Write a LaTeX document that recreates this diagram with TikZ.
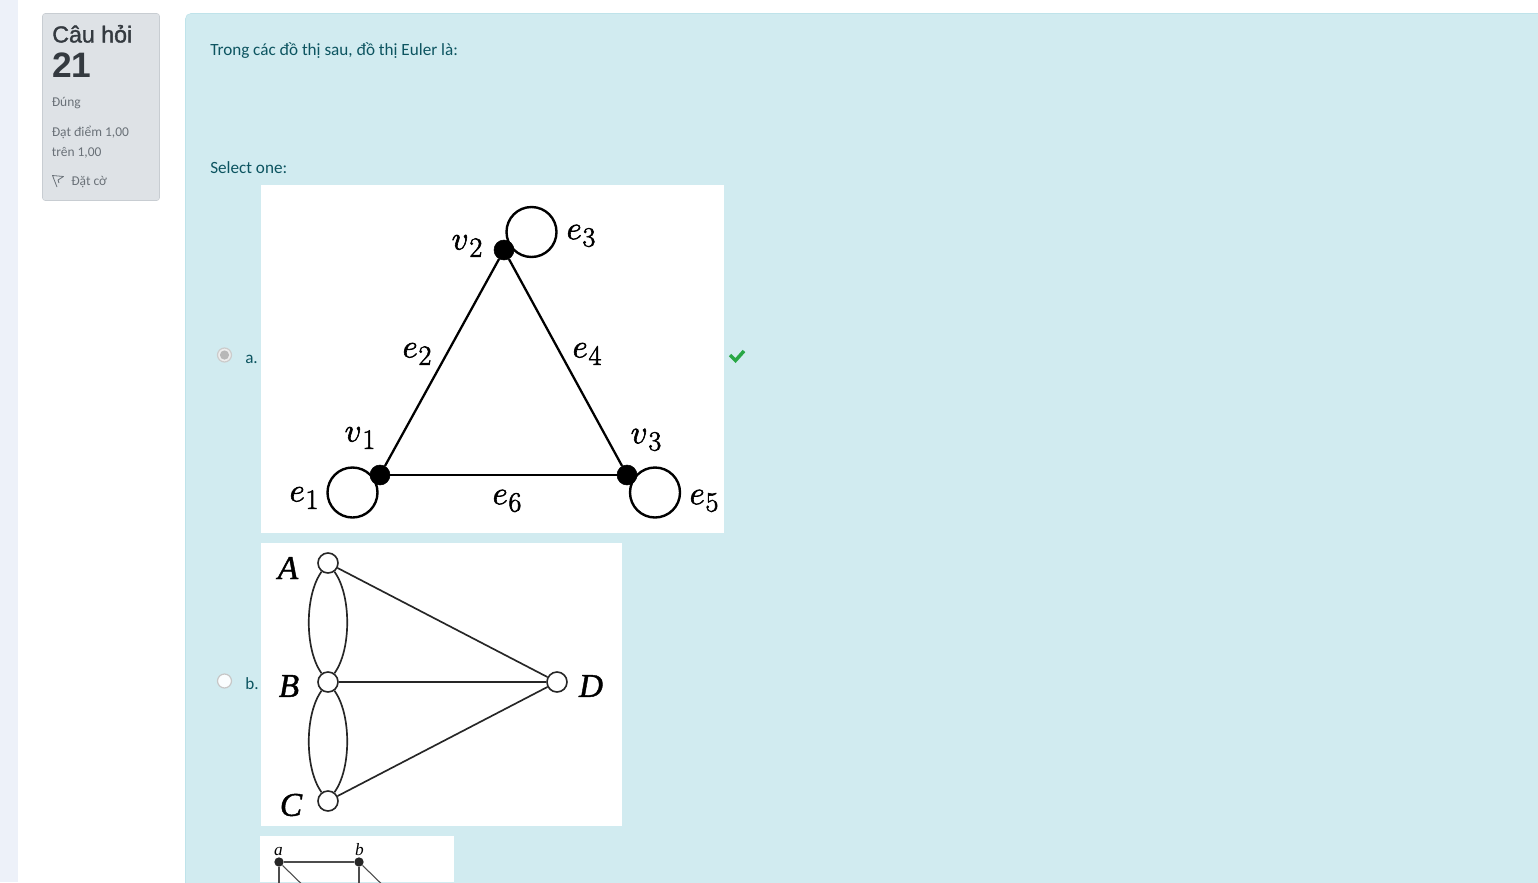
\documentclass[tikz,border=0pt]{standalone}
\usepackage{fontspec}
\setmainfont{Carlito}
\newfontfamily\headfont{Liberation Sans}
\newfontfamily\serifit[ItalicFont={Liberation Serif Italic}]{Liberation Serif}
\newfontfamily\lmr{Latin Modern Roman}
\definecolor{pagebg}{HTML}{EDF1F9}
\definecolor{infobg}{HTML}{DEE2E6}
\definecolor{infoborder}{HTML}{C8CDD2}
\definecolor{qbg}{HTML}{D1EBF0}
\definecolor{qborder}{HTML}{BFE3EA}
\definecolor{qtext}{HTML}{0C5460}
\definecolor{headtext}{HTML}{343A40}
\definecolor{greytext}{HTML}{6A7178}
\definecolor{okgreen}{HTML}{28A745}
\newcommand{\heavy}[2]{\special{pdf:code 2 Tr #1 w}#2\special{pdf:code 0 Tr}}
\newcommand{\glab}[2]{\heavy{0.45}{{\fontsize{27pt}{28pt}\selectfont$#1$}\kern0.6pt\raisebox{-5.5pt}{\lmr\fontsize{21pt}{22pt}\selectfont #2}}}
\tikzset{
  x=0.75pt,y=-0.75pt,
  lbl/.style={anchor=base west,inner sep=0pt,text=qtext,font=\fontsize{12.85pt}{14pt}\selectfont},
  side/.style={anchor=base west,inner sep=0pt,text=greytext,font=\fontsize{10.1pt}{12pt}\selectfont},
  panel/.style={fill=white,draw=none},
  solidv/.style={circle,fill=black,draw=black,minimum size=15pt,inner sep=0pt},
  openv/.style={circle,fill=white,draw=black!85,line width=1.2pt,minimum size=15pt,inner sep=0pt},
  smallv/.style={circle,fill=black!85,minimum size=7pt,inner sep=0pt},
  loopc/.style={circle,draw=black,line width=1.8pt,minimum size=37.5pt,inner sep=0pt},
  edgea/.style={line width=1.7pt,black},
  edgeb/.style={line width=1.25pt,black!85},
  edgec/.style={line width=0.8pt,black!70},
  gla/.style={inner sep=0pt},
  glb/.style={inner sep=0pt,font=\fontsize{25pt}{28pt}\selectfont\serifit\itshape},
  glc/.style={inner sep=0pt,font=\fontsize{13pt}{14pt}\selectfont\serifit\itshape},
  radio/.style={circle,draw=#1,line width=0.9pt,minimum size=10.5pt,inner sep=0pt},
}
\begin{document}
\begin{tikzpicture}
\useasboundingbox (0,0) rectangle (1538,882);
\fill[white] (0,0) rectangle (1538,882);
\fill[pagebg] (0,0) rectangle (18,882);
% info box
\draw[fill=infobg,draw=infoborder,rounded corners=2pt] (42.5,13.5) rectangle (159.5,200.5);
\node[anchor=base west,inner sep=0pt,text=headtext,font=\headfont\fontsize{17.4pt}{20pt}\selectfont] (t1) at (52,42.5) {\special{pdf:code 2 Tr 0.25 w}Câu hỏi\special{pdf:code 0 Tr}};
\node[anchor=base west,inner sep=0pt,text=headtext,font=\headfont\bfseries\fontsize{26.5pt}{30pt}\selectfont] (t2) at (52,77.5) {21};
\node[side] (t3) at (51.5,106) {Đúng};
\node[side] (t4) at (51.5,136) {Đạt điểm 1,00};
\node[side] (t5) at (51.5,156) {trên 1,00};
\node[side] (t6) at (71,185) {Đặt cờ};
\draw[greytext,line width=0.6pt,line join=round] (57,187) -- (52.5,175.5) -- (63.5,176.5) -- (58,180) -- (59,183);
% question box
\draw[fill=qbg,draw=qborder,rounded corners=4pt] (185.5,13.5) -- (1560,13.5) -- (1560,900) -- (185.5,900) -- cycle;
\node[lbl] (q) at (210,55) {Trong các đồ thị sau, đồ thị Euler là:};
\node[lbl] (s) at (210,173) {Select one:};
% radios
\node[radio=black!20,fill=black!7] (ra) at (224.5,355) {};
\fill[black!28] (ra) circle[radius=4.6];
\node[lbl] (la) at (245,363) {a.};
\node[radio=black!22,fill=white!90!qbg] (rb) at (224.5,681) {};
\node[lbl] (lb) at (245,689) {b.};
% tick
\draw[okgreen,line width=2.6pt,line join=miter] (730,355) -- (735.5,360.5) -- (744,351);
% images
\fill[panel] (261,185) rectangle (724,533);
\fill[panel] (261,543) rectangle (622,826);
\fill[panel] (260,836) rectangle (454,882);
% graph a
\node[loopc] (l3) at (531.5,232) {};
\node[loopc] (l1) at (352.5,492.5) {};
\node[loopc] (l5) at (655,492.5) {};
\node[solidv] (v1) at (380,475) {};
\node[solidv] (v2) at (504,250) {};
\node[solidv] (v3) at (627,475) {};
\draw[edgea] (v1) -- (v2);
\draw[edgea] (v2) -- (v3);
\draw[edgea] (v1) -- (v3);
\node[gla] (nv2) at (467,246) {\glab{v}{2}};
\node[gla] (ne3) at (581,236) {\glab{e}{3}};
\node[gla] (ne2) at (417,354) {\glab{e}{2}};
\node[gla] (ne4) at (587,354) {\glab{e}{4}};
\node[gla] (nv1) at (360,438) {\glab{v}{1}};
\node[gla] (nv3) at (646,440) {\glab{v}{3}};
\node[gla] (ne1) at (304,498) {\glab{e}{1}};
\node[gla] (ne6) at (507,501) {\glab{e}{6}};
\node[gla] (ne5) at (704,501) {\glab{e}{5}};
% graph b
\node[openv] (A) at (328,563) {};
\node[openv] (B) at (328,682) {};
\node[openv] (C) at (328,801) {};
\node[openv] (D) at (557,682) {};
\draw[edgeb] (A) .. controls (304.5,595) and (304.5,650) .. (B);
\draw[edgeb] (A) .. controls (351.5,595) and (351.5,650) .. (B);
\draw[edgeb] (B) .. controls (304.5,714) and (304.5,769) .. (C);
\draw[edgeb] (B) .. controls (351.5,714) and (351.5,769) .. (C);
\draw[edgeb] (A) -- (D);
\draw[edgeb] (B) -- (D);
\draw[edgeb] (C) -- (D);
\node[glb] (nA) at (288,568) {\heavy{0.3}{A}};
\node[glb] (nB) at (289,686) {\heavy{0.3}{B}};
\node[glb] (nC) at (291,805) {\heavy{0.3}{C}};
\node[glb] (nD) at (591,686) {\heavy{0.3}{D}};
% graph c
\begin{scope}
\clip (260,836) rectangle (454,882);
\node[smallv] (a) at (279,862) {};
\node[smallv] (b) at (359,862) {};
\coordinate (a1) at (279,900);
\coordinate (a2) at (318,900);
\coordinate (b1) at (359,900);
\coordinate (b2) at (398,900);
\draw[edgec] (a) -- (b);
\draw[edgec] (a) -- (a1);
\draw[edgec] (a) -- (a2);
\draw[edgec] (b) -- (b1);
\draw[edgec] (b) -- (b2);
\node[glc] (na) at (278.5,851) {a};
\node[glc] (nb) at (359.5,850) {b};
\end{scope}
\end{tikzpicture}
\end{document}
